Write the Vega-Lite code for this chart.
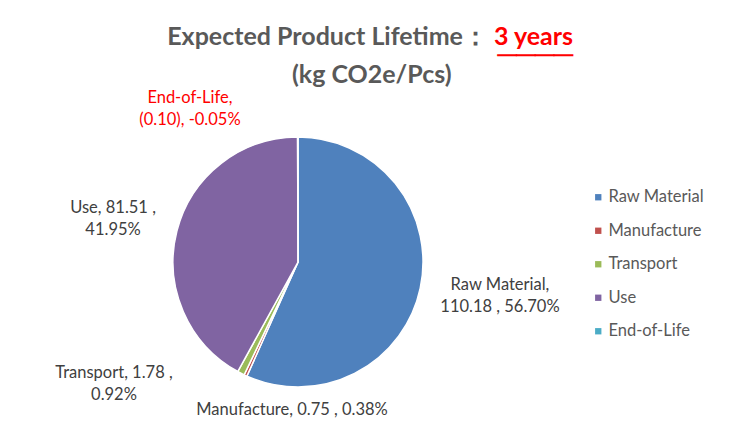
{
  "$schema": "https://vega.github.io/schema/vega-lite/v6.json",
  "width": 500,
  "height": 348,
  "autosize": {"type": "none"},
  "padding": {"left": 48, "top": 88, "right": 181, "bottom": 0},
  "background": "white",
  "config": {"view": {"stroke": null}, "font": "Lato"},
  "title": {
    "text": ["Expected Product Lifetime：\u00a0\u00a0\u00a0\u00a0\u00a0\u00a0\u00a0\u00a0\u00a0\u00a0\u00a0\u00a0\u00a0\u00a0\u200b", "(kg CO2e/Pcs)\u00a0\u00a0\u00a0\u00a0\u00a0\u00a0\u00a0\u00a0\u00a0\u00a0\u00a0\u00a0\u00a0\u00a0\u00a0\u00a0\u00a0\u00a0\u00a0\u00a0\u200b"],
    "subtitle": ["3 years", "────"],
    "anchor": "end",
    "frame": "group",
    "dx": 25,
    "offset": -36,
    "font": "Lato",
    "fontSize": 25,
    "fontWeight": "bold",
    "color": "#595959",
    "lineHeight": 38,
    "subtitleFont": "Lato",
    "subtitleFontSize": 25,
    "subtitleFontWeight": "bold",
    "subtitleColor": "#FF0000",
    "subtitleLineHeight": 18,
    "subtitlePadding": -63
  },
  "data": {
    "values": [
      {"idx": 1, "category": "Raw Material", "value": 110.18, "pct": "56.70%", "label": "Raw Material,\n110.18 , 56.70%"},
      {"idx": 2, "category": "Manufacture", "value": 0.75, "pct": "0.38%", "label": "Manufacture, 0.75 , 0.38%"},
      {"idx": 3, "category": "Transport", "value": 1.78, "pct": "0.92%", "label": "Transport, 1.78 ,\n0.92%"},
      {"idx": 4, "category": "Use", "value": 81.51, "pct": "41.95%", "label": "Use, 81.51 ,\n41.95%"},
      {"idx": 5, "category": "End-of-Life", "value": -0.10, "pct": "-0.05%", "label": "End-of-Life,\n(0.10), -0.05%"}
    ]
  },
  "transform": [{"calculate": "abs(datum.value)", "as": "size"}],
  "encoding": {
    "theta": {"field": "size", "type": "quantitative", "stack": true},
    "order": {"field": "idx", "type": "quantitative"}
  },
  "layer": [
    {
      "mark": {"type": "arc", "outerRadius": 125, "stroke": "white", "strokeWidth": 1.5},
      "encoding": {
        "color": {
          "field": "category",
          "type": "nominal",
          "sort": ["Raw Material", "Manufacture", "Transport", "Use", "End-of-Life"],
          "scale": {
            "domain": ["Raw Material", "Manufacture", "Transport", "Use", "End-of-Life"],
            "range": ["#4F81BD", "#C0504D", "#9BBB59", "#8064A2", "#4BACC6"]
          },
          "legend": {
            "orient": "none",
            "legendX": 542,
            "legendY": 101,
            "title": null,
            "symbolType": "square",
            "symbolSize": 40,
            "symbolStrokeWidth": 0,
            "labelFont": "Lato",
            "labelFontSize": 16.5,
            "labelColor": "#595959",
            "labelOffset": 2,
            "rowPadding": 16.5
          }
        }
      }
    },
    {
      "mark": {"type": "text", "radius": 203.3, "thetaOffset": -0.0969, "align": "center", "baseline": "middle", "fontSize": 16.5, "lineHeight": 22, "lineBreak": "\n"},
      "encoding": {
        "detail": {"field": "category"},
        "color": {"value": "#404040"},
        "text": {"condition": {"test": "datum.category === 'Raw Material'", "field": "label"}, "value": ""}
      }
    },
    {
      "mark": {"type": "text", "radius": 148.1, "thetaOffset": -0.393, "align": "center", "baseline": "middle", "fontSize": 16.5, "lineHeight": 22, "lineBreak": "\n"},
      "encoding": {
        "detail": {"field": "category"},
        "color": {"value": "#404040"},
        "text": {"condition": {"test": "datum.category === 'Manufacture'", "field": "label"}, "value": ""}
      }
    },
    {
      "mark": {"type": "text", "radius": 214.9, "thetaOffset": 0.554, "align": "center", "baseline": "middle", "fontSize": 16.5, "lineHeight": 22, "lineBreak": "\n"},
      "encoding": {
        "detail": {"field": "category"},
        "color": {"value": "#404040"},
        "text": {"condition": {"test": "datum.category === 'Transport'", "field": "label"}, "value": ""}
      }
    },
    {
      "mark": {"type": "text", "radius": 192.7, "thetaOffset": 0.035, "align": "center", "baseline": "middle", "fontSize": 16.5, "lineHeight": 22, "lineBreak": "\n"},
      "encoding": {
        "detail": {"field": "category"},
        "color": {"value": "#404040"},
        "text": {"condition": {"test": "datum.category === 'Use'", "field": "label"}, "value": ""}
      }
    },
    {
      "mark": {"type": "text", "radius": 196.4, "thetaOffset": -0.581, "align": "center", "baseline": "middle", "fontSize": 16.5, "lineHeight": 22, "lineBreak": "\n"},
      "encoding": {
        "detail": {"field": "category"},
        "color": {"value": "#FF0000"},
        "text": {"condition": {"test": "datum.category === 'End-of-Life'", "field": "label"}, "value": ""}
      }
    }
  ]
}
